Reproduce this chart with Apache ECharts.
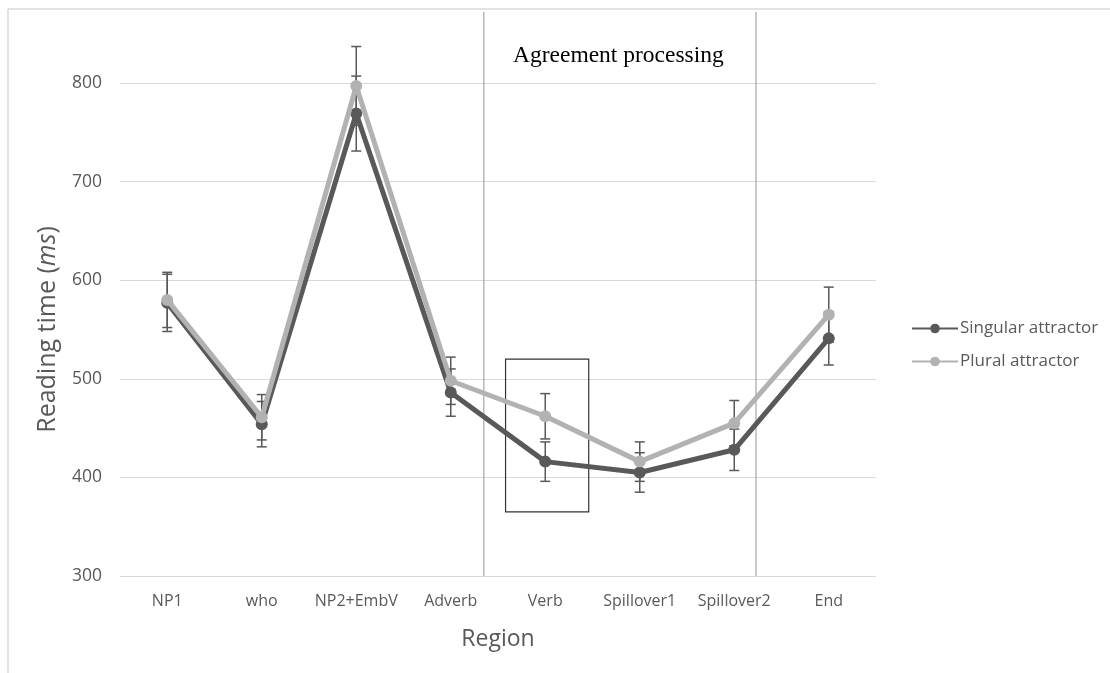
<!DOCTYPE html>
<html>
<head>
<meta charset="utf-8">
<script src="https://cdn.jsdelivr.net/npm/echarts@6/dist/echarts.min.js"></script>
<style>
html,body{margin:0;padding:0;background:#fff;}
#chart{width:1110px;height:673px;}
</style>
</head>
<body>
<div id="chart"></div>
<script>
// ---- data ----
var categories = ['NP1', 'who', 'NP2+EmbV', 'Adverb', 'Verb', 'Spillover1', 'Spillover2', 'End'];
var singular = [577, 454, 769, 486, 416, 405, 428, 541];
var singularErr = [29, 23, 38, 24, 20, 20, 21, 27];
var plural = [580, 461, 797, 498, 462, 416, 455, 565];
var pluralErr = [28, 23, 40, 24, 23, 20, 23, 28];
var yTicks = [300, 400, 500, 600, 700, 800];
// annotation positions in category-index units / reading-time units
var regionDividers = [3.35, 6.23];
var dividerTop = 872;
var highlightBox = { x0: 3.58, x1: 4.46, y0: 365, y1: 520 };
var annotationText = 'Agreement processing';

var dark = '#595959';
var light = '#b2b2b2';
var font = '"Open Sans", "Noto Sans", sans-serif';

function errData(vals, errs) {
  return vals.map(function (v, i) { return [i, v - errs[i], v + errs[i]]; });
}

function renderErr(params, api) {
  var x = api.value(0);
  var lo = api.coord([x, api.value(1)]);
  var hi = api.coord([x, api.value(2)]);
  var cap = 5;
  var style = { stroke: dark, lineWidth: 1.5, fill: null };
  return {
    type: 'group',
    children: [
      { type: 'line', shape: { x1: lo[0], y1: lo[1], x2: hi[0], y2: hi[1] }, style: style },
      { type: 'line', shape: { x1: lo[0] - cap, y1: lo[1], x2: lo[0] + cap, y2: lo[1] }, style: style },
      { type: 'line', shape: { x1: hi[0] - cap, y1: hi[1], x2: hi[0] + cap, y2: hi[1] }, style: style }
    ]
  };
}

var chart = echarts.init(document.getElementById('chart'));
chart.setOption({
  animation: false,
  backgroundColor: '#fff',
  textStyle: { fontFamily: font },
  grid: { left: 120, right: 234, top: 83, bottom: 97 },
  graphic: [
    { type: 'line', shape: { x1: 8, y1: 9, x2: 1110, y2: 9 }, style: { stroke: '#d9d9d9', lineWidth: 1.5 } },
    { type: 'line', shape: { x1: 8, y1: 9, x2: 8, y2: 673 }, style: { stroke: '#d9d9d9', lineWidth: 1.5 } },
    { type: 'text', left: 513, top: 44, style: { text: annotationText, font: '23.5px "Liberation Serif", "Times New Roman", serif', fill: '#000' } }
  ],
  legend: {
    orient: 'vertical',
    left: 906,
    top: 315,
    itemWidth: 46,
    itemHeight: 12,
    itemGap: 16,
    data: ['Singular attractor', 'Plural attractor'],
    textStyle: { color: dark, fontSize: 17, fontFamily: font, padding: [0, 0, 0, -3] }
  },
  xAxis: [
    {
      type: 'category',
      data: categories,
      boundaryGap: true,
      axisLine: { show: false },
      axisTick: { show: false },
      axisLabel: { color: dark, fontSize: 16, margin: 17, interval: 0 },
      name: 'Region',
      nameLocation: 'middle',
      nameGap: 52,
      nameTextStyle: { color: dark, fontSize: 23 }
    },
    { type: 'value', min: -0.5, max: 7.5, show: false }
  ],
  yAxis: {
    type: 'value',
    min: yTicks[0],
    max: yTicks[yTicks.length - 1],
    interval: 100,
    axisLine: { show: false },
    axisTick: { show: false },
    axisLabel: { color: dark, fontSize: 17.5, margin: 18 },
    splitLine: { lineStyle: { color: '#d9d9d9', width: 1.2 } },
    name: '{a|Reading time (}{b|ms}{a|)}',
    nameLocation: 'middle',
    nameGap: 60,
    nameTextStyle: {
      rich: {
        a: { color: dark, fontSize: 25, fontFamily: font },
        b: { color: dark, fontSize: 25, fontFamily: font, fontStyle: 'italic' }
      }
    }
  },
  series: [
    {
      name: 'annotations-lines',
      type: 'custom',
      xAxisIndex: 1,
      clip: false,
      silent: true,
      z: 1,
      data: regionDividers.map(function (d) { return [d, yTicks[0], dividerTop]; }),
      renderItem: function (params, api) {
        var a = api.coord([api.value(0), api.value(1)]);
        var b = api.coord([api.value(0), api.value(2)]);
        return { type: 'line', shape: { x1: a[0], y1: a[1], x2: b[0], y2: b[1] }, style: { stroke: '#a6a6a6', lineWidth: 1.2 } };
      }
    },
    {
      name: 'annotations-box',
      type: 'custom',
      xAxisIndex: 1,
      clip: false,
      silent: true,
      z: 1,
      data: [[highlightBox.x0, highlightBox.y0, highlightBox.x1, highlightBox.y1]],
      renderItem: function (params, api) {
        var a = api.coord([api.value(0), api.value(3)]);
        var b = api.coord([api.value(2), api.value(1)]);
        return { type: 'rect', shape: { x: a[0], y: a[1], width: b[0] - a[0], height: b[1] - a[1] }, style: { stroke: '#333', lineWidth: 1.2, fill: null } };
      }
    },
    {
      name: 'Singular attractor',
      type: 'line',
      data: singular,
      symbol: 'circle',
      symbolSize: 12,
      z: 3,
      itemStyle: { color: dark },
      lineStyle: { color: dark, width: 5 }
    },
    {
      name: 'Plural attractor',
      type: 'line',
      data: plural,
      symbol: 'circle',
      symbolSize: 12,
      z: 4,
      itemStyle: { color: light },
      lineStyle: { color: light, width: 5 }
    },
    {
      name: 'singular-err',
      type: 'custom',
      z: 2,
      silent: true,
      data: errData(singular, singularErr),
      renderItem: renderErr
    },
    {
      name: 'plural-err',
      type: 'custom',
      z: 2,
      silent: true,
      data: errData(plural, pluralErr),
      renderItem: renderErr
    }
  ]
});
</script>
</body>
</html>
